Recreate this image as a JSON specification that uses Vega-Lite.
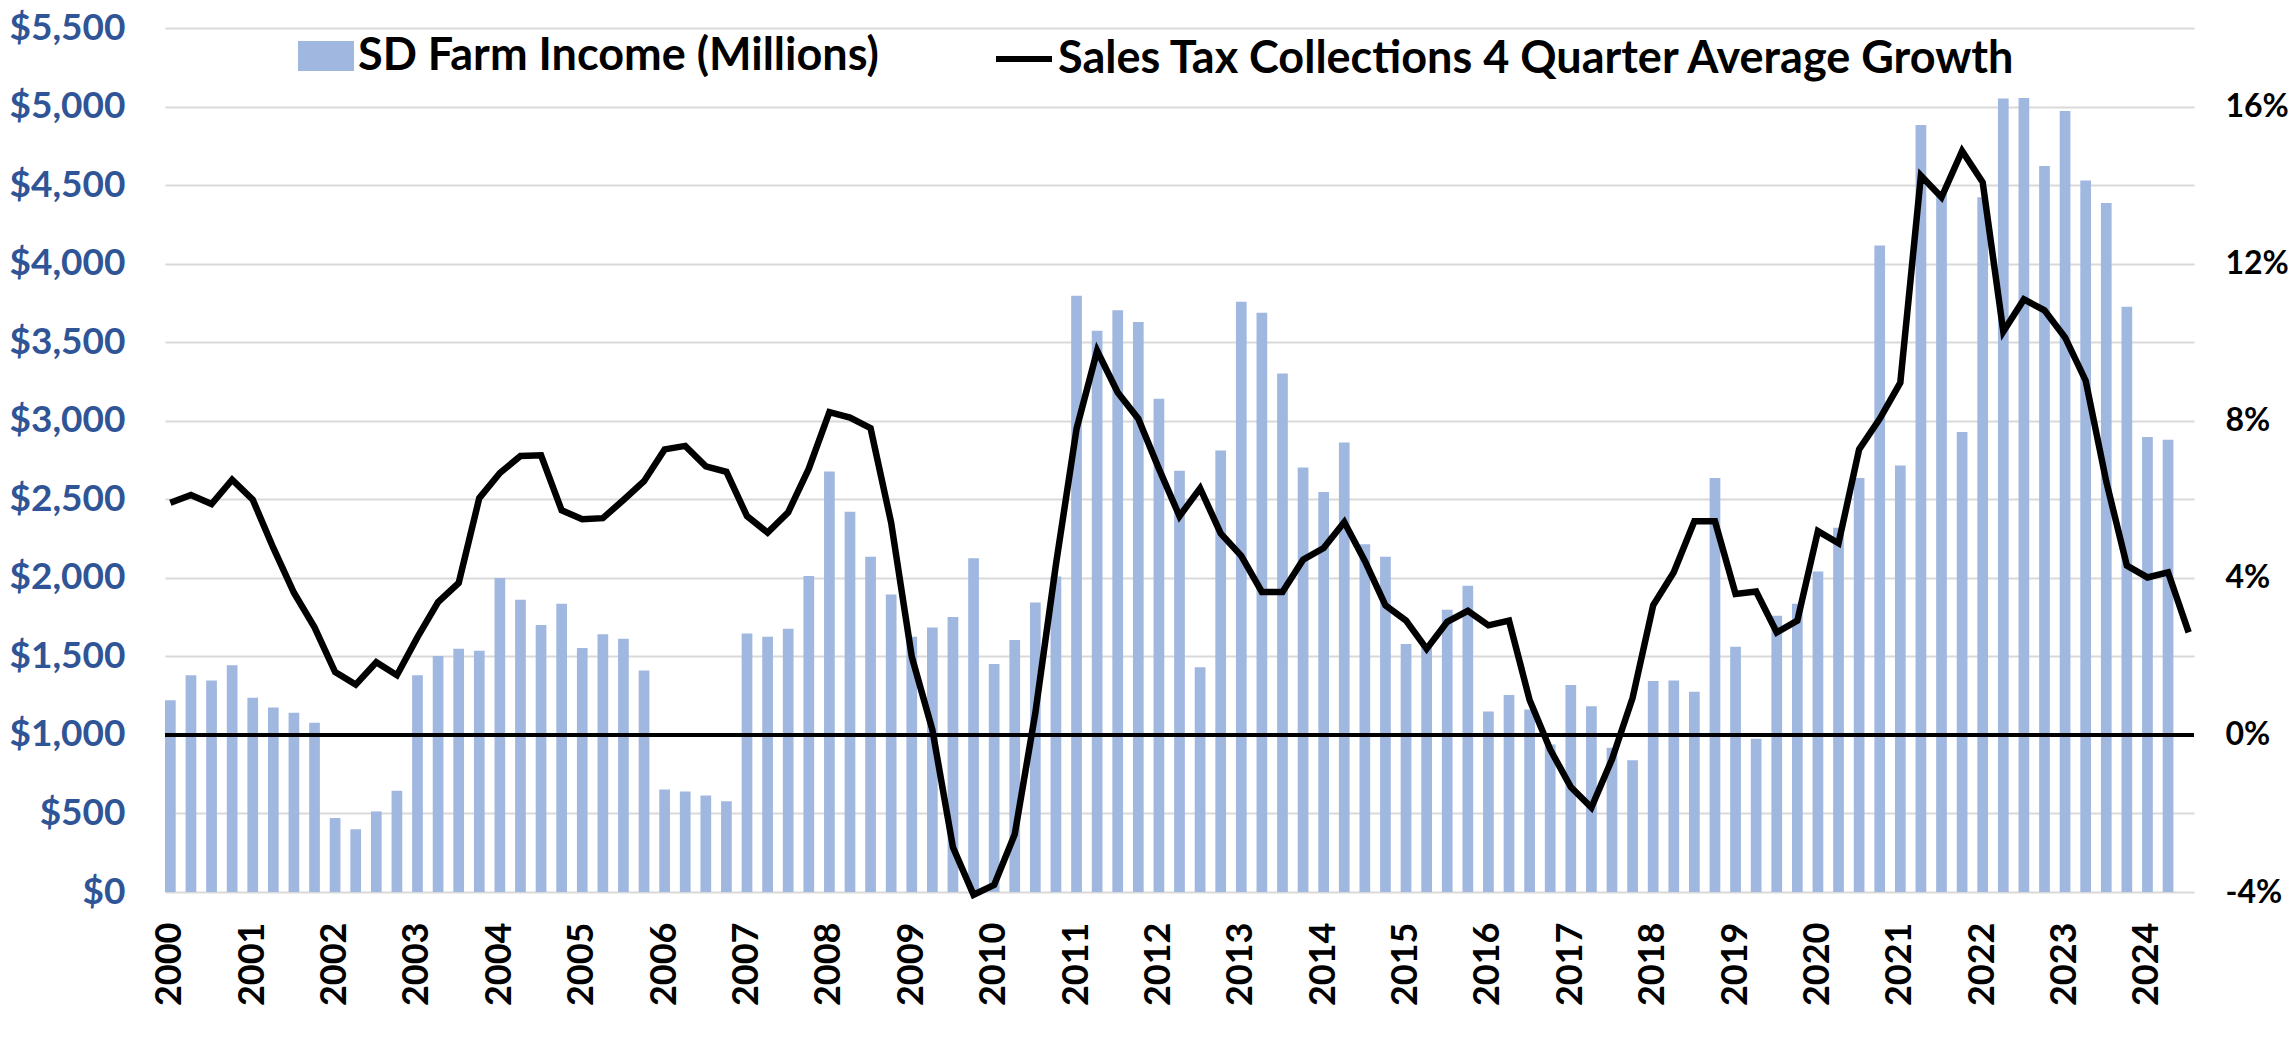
{
  "$schema": "https://vega.github.io/schema/vega-lite/v6.json",
  "width": 2029,
  "height": 864,
  "autosize": {"type": "none"},
  "padding": {"left": 165, "top": 28, "right": 101, "bottom": 146},
  "background": "white",
  "config": {
    "view": {"stroke": null},
    "font": "Lato",
    "axis": {"labelFont": "Lato", "labelFontWeight": "bold", "domain": false, "ticks": false, "title": null},
    "legend": {"labelFont": "Lato", "labelFontWeight": "bold", "labelColor": "black", "labelLimit": 2000, "padding": 0, "title": null}
  },
  "data": {"values": [
    {"q":"2000 Q1","farm":1220,"tax":5.91},{"q":"2000 Q2","farm":1380,"tax":6.11},{"q":"2000 Q3","farm":1347,"tax":5.88},{"q":"2000 Q4","farm":1444,"tax":6.50},
    {"q":"2001 Q1","farm":1237,"tax":5.99},{"q":"2001 Q2","farm":1174,"tax":4.76},{"q":"2001 Q3","farm":1141,"tax":3.62},{"q":"2001 Q4","farm":1077,"tax":2.74},
    {"q":"2002 Q1","farm":471,"tax":1.60},{"q":"2002 Q2","farm":400,"tax":1.28},{"q":"2002 Q3","farm":513,"tax":1.85},{"q":"2002 Q4","farm":644,"tax":1.52},
    {"q":"2003 Q1","farm":1380,"tax":2.49},{"q":"2003 Q2","farm":1503,"tax":3.38},{"q":"2003 Q3","farm":1549,"tax":3.87},{"q":"2003 Q4","farm":1536,"tax":6.03},
    {"q":"2004 Q1","farm":1999,"tax":6.67},{"q":"2004 Q2","farm":1860,"tax":7.10},{"q":"2004 Q3","farm":1700,"tax":7.12},{"q":"2004 Q4","farm":1835,"tax":5.72},
    {"q":"2005 Q1","farm":1553,"tax":5.49},{"q":"2005 Q2","farm":1641,"tax":5.52},{"q":"2005 Q3","farm":1612,"tax":5.98},{"q":"2005 Q4","farm":1410,"tax":6.46},
    {"q":"2006 Q1","farm":652,"tax":7.27},{"q":"2006 Q2","farm":640,"tax":7.36},{"q":"2006 Q3","farm":614,"tax":6.84},{"q":"2006 Q4","farm":577,"tax":6.70},
    {"q":"2007 Q1","farm":1646,"tax":5.57},{"q":"2007 Q2","farm":1625,"tax":5.15},{"q":"2007 Q3","farm":1675,"tax":5.67},{"q":"2007 Q4","farm":2012,"tax":6.78},
    {"q":"2008 Q1","farm":2677,"tax":8.22},{"q":"2008 Q2","farm":2420,"tax":8.08},{"q":"2008 Q3","farm":2134,"tax":7.81},{"q":"2008 Q4","farm":1894,"tax":5.40},
    {"q":"2009 Q1","farm":1625,"tax":1.99},{"q":"2009 Q2","farm":1684,"tax":0.13},{"q":"2009 Q3","farm":1751,"tax":-2.86},{"q":"2009 Q4","farm":2125,"tax":-4.07},
    {"q":"2010 Q1","farm":1452,"tax":-3.82},{"q":"2010 Q2","farm":1604,"tax":-2.53},{"q":"2010 Q3","farm":1843,"tax":0.56},{"q":"2010 Q4","farm":2008,"tax":4.34},
    {"q":"2011 Q1","farm":3796,"tax":7.79},{"q":"2011 Q2","farm":3573,"tax":9.78},{"q":"2011 Q3","farm":3704,"tax":8.72},{"q":"2011 Q4","farm":3628,"tax":8.05},
    {"q":"2012 Q1","farm":3140,"tax":6.78},{"q":"2012 Q2","farm":2681,"tax":5.57},{"q":"2012 Q3","farm":1431,"tax":6.28},{"q":"2012 Q4","farm":2811,"tax":5.13},
    {"q":"2013 Q1","farm":3758,"tax":4.56},{"q":"2013 Q2","farm":3687,"tax":3.64},{"q":"2013 Q3","farm":3300,"tax":3.64},{"q":"2013 Q4","farm":2702,"tax":4.46},
    {"q":"2014 Q1","farm":2546,"tax":4.76},{"q":"2014 Q2","farm":2862,"tax":5.42},{"q":"2014 Q3","farm":2214,"tax":4.43},{"q":"2014 Q4","farm":2134,"tax":3.30},
    {"q":"2015 Q1","farm":1578,"tax":2.91},{"q":"2015 Q2","farm":1570,"tax":2.19},{"q":"2015 Q3","farm":1797,"tax":2.88},{"q":"2015 Q4","farm":1949,"tax":3.16},
    {"q":"2016 Q1","farm":1149,"tax":2.79},{"q":"2016 Q2","farm":1254,"tax":2.91},{"q":"2016 Q3","farm":1162,"tax":0.89},{"q":"2016 Q4","farm":939,"tax":-0.37},
    {"q":"2017 Q1","farm":1317,"tax":-1.33},{"q":"2017 Q2","farm":1183,"tax":-1.85},{"q":"2017 Q3","farm":918,"tax":-0.62},{"q":"2017 Q4","farm":838,"tax":0.94},
    {"q":"2018 Q1","farm":1343,"tax":3.30},{"q":"2018 Q2","farm":1347,"tax":4.14},{"q":"2018 Q3","farm":1275,"tax":5.44},{"q":"2018 Q4","farm":2635,"tax":5.44},
    {"q":"2019 Q1","farm":1561,"tax":3.59},{"q":"2019 Q2","farm":976,"tax":3.65},{"q":"2019 Q3","farm":1759,"tax":2.61},{"q":"2019 Q4","farm":1835,"tax":2.91},
    {"q":"2020 Q1","farm":2041,"tax":5.19},{"q":"2020 Q2","farm":2319,"tax":4.88},{"q":"2020 Q3","farm":2635,"tax":7.27},{"q":"2020 Q4","farm":4116,"tax":8.05},
    {"q":"2021 Q1","farm":2715,"tax":8.97},{"q":"2021 Q2","farm":4882,"tax":14.24},{"q":"2021 Q3","farm":4453,"tax":13.69},{"q":"2021 Q4","farm":2929,"tax":14.87},
    {"q":"2022 Q1","farm":4423,"tax":14.07},{"q":"2022 Q2","farm":5051,"tax":10.27},{"q":"2022 Q3","farm":5055,"tax":11.09},{"q":"2022 Q4","farm":4621,"tax":10.81},
    {"q":"2023 Q1","farm":4971,"tax":10.12},{"q":"2023 Q2","farm":4529,"tax":9.02},{"q":"2023 Q3","farm":4386,"tax":6.45},{"q":"2023 Q4","farm":3725,"tax":4.31},
    {"q":"2024 Q1","farm":2896,"tax":4.01},{"q":"2024 Q2","farm":2879,"tax":4.14},{"q":"2024 Q3","farm":null,"tax":2.61}
  ]},
  "layer": [
    {
      "layer": [
        {
          "mark": {"type": "bar"},
          "encoding": {
            "x": {
              "field": "q", "type": "ordinal", "sort": null,
              "scale": {"paddingInner": 0.48, "paddingOuter": 0},
              "axis": {
                "labelAngle": -90, "labelFontSize": 36, "labelColor": "black", "labelPadding": 30,
                "labelExpr": "indexof(datum.value, 'Q1') > 0 ? substring(datum.value, 0, 4) : ''",
                "grid": false
              }
            },
            "y": {
              "field": "farm", "type": "quantitative",
              "scale": {"domain": [0, 5500], "nice": false},
              "axis": {
                "values": [0,500,1000,1500,2000,2500,3000,3500,4000,4500,5000,5500],
                "format": "$,.0f", "labelFontSize": 37, "labelColor": "#2F5597", "labelPadding": 40,
                "grid": true, "gridColor": "#D9D9D9", "gridWidth": 2
              }
            },
            "fill": {
              "datum": "SD Farm Income (Millions)",
              "scale": {"range": ["#A0B7E0"]},
              "legend": {
                "orient": "none", "legendX": 133, "legendY": 0,
                "symbolType": "M-1,-0.54H1V0.54H-1Z", "symbolSize": 3136, "symbolStrokeWidth": 0,
                "labelFontSize": 45, "labelOffset": 4
              }
            }
          }
        },
        {
          "mark": {"type": "rule", "color": "black", "strokeWidth": 2.5},
          "encoding": {"y": {"datum": 1000}}
        }
      ]
    },
    {
      "mark": {"type": "line", "strokeWidth": 6.5, "strokeJoin": "miter", "clip": false},
      "encoding": {
        "x": {"field": "q", "type": "ordinal", "sort": null},
        "y": {
          "field": "tax", "type": "quantitative",
          "scale": {"domain": [-4, 18], "nice": false, "zero": false},
          "axis": {
            "orient": "right", "values": [-4, 0, 4, 8, 12, 16],
            "labelExpr": "datum.value + '%'", "labelFontSize": 32, "labelColor": "black",
            "labelPadding": 31, "labelAlign": "left", "grid": false
          }
        },
        "stroke": {
          "datum": "Sales Tax Collections 4 Quarter Average Growth",
          "scale": {"range": ["black"]},
          "legend": {
            "orient": "none", "legendX": 828, "legendY": 0,
            "symbolType": "stroke", "symbolSize": 3136, "symbolStrokeWidth": 6,
            "labelFontSize": 45, "labelOffset": 3
          }
        }
      }
    }
  ],
  "resolve": {"scale": {"y": "independent"}}
}
